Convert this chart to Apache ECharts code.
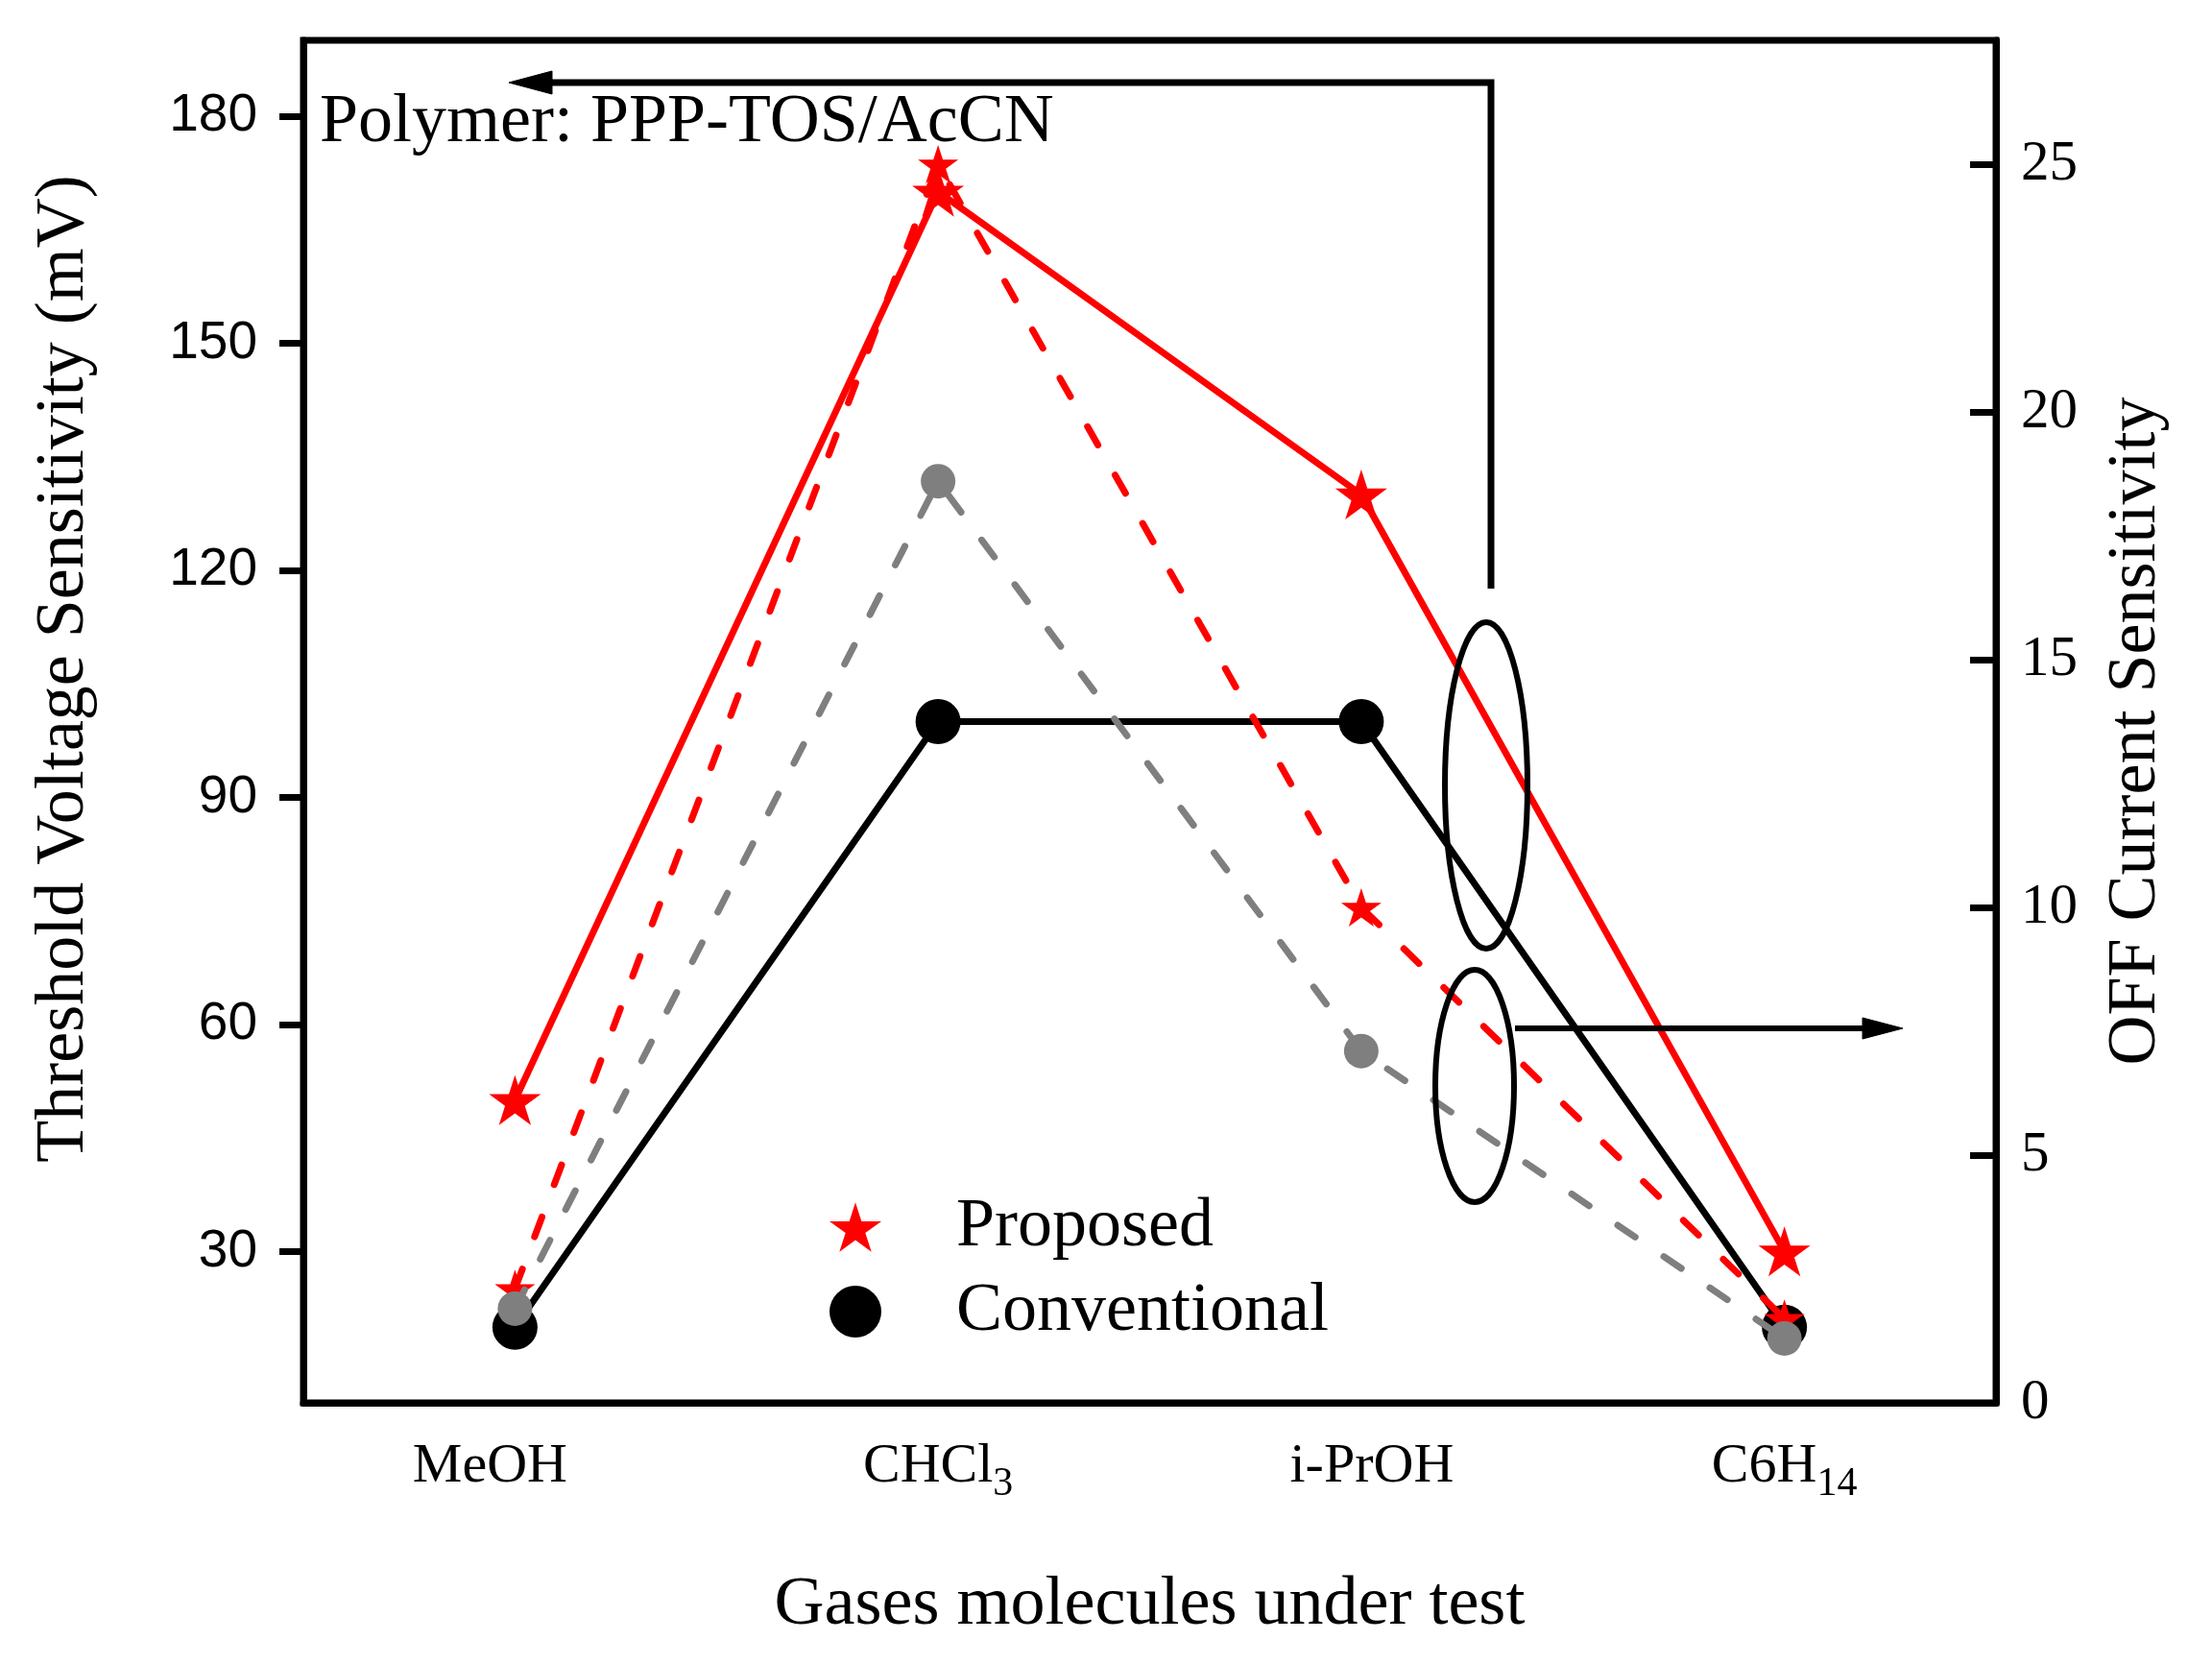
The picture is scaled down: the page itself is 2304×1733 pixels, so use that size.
<!DOCTYPE html>
<html>
<head>
<meta charset="utf-8">
<script src="https://cdn.jsdelivr.net/npm/echarts@6/dist/echarts.min.js"></script>
<style>
html,body{margin:0;padding:0;background:#fff;}
#chart{width:2304px;height:1733px;}
</style>
</head>
<body>
<div id="chart"></div>
<script>
// ---- data ----
const categories = ['MeOH', 'CHCl3', 'i-PrOH', 'C6H14'];
// Threshold voltage sensitivity (mV), left axis
const proposedVth = [50, 170, 130, 30];
const conventionalVth = [20, 100, 100, 20];
// OFF current sensitivity, right axis
const proposedOff = [2.3, 25, 10, 1.7];
const conventionalOff = [1.9, 18.6, 7.1, 1.3];
// tick values
const leftTicks = [30, 60, 90, 120, 150, 180];
const rightTicks = [0, 5, 10, 15, 20, 25];

const SERIF = "'Liberation Serif', 'Times New Roman', serif";
const SANS = "'Liberation Sans', Arial, sans-serif";

function starPath() {
  const pts = [];
  for (let i = 0; i < 10; i++) {
    const r = i % 2 ? 0.382 : 1;
    const a = -Math.PI / 2 + i * Math.PI / 5;
    pts.push((r * Math.cos(a)).toFixed(4) + ' ' + (r * Math.sin(a)).toFixed(4));
  }
  return 'path://M' + pts.join(' L') + ' Z';
}
const STAR = starPath();

function catLabel(v) {
  const m = v.match(/^(.*\D)(\d+)$/);
  if (v === 'MeOH') return '{ml|' + v + '}';
  if (v === 'i-PrOH') return '{mr|' + v + '}';
  if (m) return '{m|' + m[1] + '}{sub|' + m[2] + '}';
  return '{m|' + v + '}';
}

const chart = echarts.init(document.getElementById('chart'), null, {renderer: 'canvas'});

const mainTok = {fontFamily: SERIF, fontSize: 58, lineHeight: 58, color: '#000', verticalAlign: 'bottom'};
const LW = 7;

const option = {
  backgroundColor: '#fff',
  animation: false,
  grid: {left: 316, right: 225, top: 42, bottom: 272, show: true, borderColor: '#000', borderWidth: 7},
  legend: {
    orient: 'vertical',
    left: 859,
    top: 1237,
    itemWidth: 54,
    itemHeight: 54,
    itemGap: 16,
    data: [
      {name: 'Proposed', icon: STAR},
      {name: 'Conventional', icon: 'circle'}
    ],
    textStyle: {fontFamily: SERIF, fontSize: 72, lineHeight: 72, color: '#000', padding: [0, 0, 0, 73]}
  },
  xAxis: {
    type: 'category',
    data: categories,
    boundaryGap: true,
    axisLine: {lineStyle: {color: '#000', width: 7}},
    axisTick: {alignWithLabel: true, length: 27, lineStyle: {color: '#000', width: 7}},
    axisLabel: {
      margin: 48,
      formatter: catLabel,
      rich: {
        m: Object.assign({}, mainTok, {padding: [0, 0, 10, 0]}),
        ml: Object.assign({}, mainTok, {padding: [0, 52, 10, 0]}),
        mr: Object.assign({}, mainTok, {padding: [0, 0, 10, 22]}),
        sub: {fontFamily: SERIF, fontSize: 42, lineHeight: 42, color: '#000', verticalAlign: 'bottom'}
      }
    },
    name: 'Gases molecules under test',
    nameLocation: 'middle',
    nameGap: 175,
    nameTextStyle: {fontFamily: SERIF, fontSize: 72, color: '#000'},
    splitLine: {show: false}
  },
  yAxis: [
    {
      type: 'value',
      position: 'left',
      min: 10,
      max: 190,
      axisLine: {show: true, lineStyle: {color: '#000', width: 7}},
      axisTick: {show: true, length: 25, customValues: leftTicks, lineStyle: {color: '#000', width: 7}},
      axisLabel: {customValues: leftTicks, margin: 48, fontFamily: SANS, fontSize: 55, color: '#000'},
      splitLine: {show: false},
      name: 'Threshold Voltage Sensitivity (mV)',
      nameLocation: 'middle',
      nameGap: 213,
      nameTextStyle: {fontFamily: SERIF, fontSize: 72, color: '#000', padding: [0, 0, 0, 110]}
    },
    {
      type: 'value',
      position: 'right',
      min: 0,
      max: 27.5,
      axisLine: {show: true, lineStyle: {color: '#000', width: 7}},
      axisTick: {show: true, inside: true, length: 27, customValues: rightTicks, lineStyle: {color: '#000', width: 7}},
      axisLabel: {customValues: rightTicks, margin: 26, fontFamily: SERIF, fontSize: 59, color: '#000'},
      splitLine: {show: false},
      name: 'OFF Current Sensitivity',
      nameLocation: 'middle',
      nameGap: 110,
      nameTextStyle: {fontFamily: SERIF, fontSize: 72, color: '#000', padding: [0, 20, 0, 0]}
    }
  ],
  series: [
    {
      name: 'Proposed',
      type: 'line',
      yAxisIndex: 0,
      data: proposedVth,
      symbol: STAR,
      symbolSize: [54, 52],
      color: '#ff0000',
      lineStyle: {color: '#ff0000', width: LW},
      itemStyle: {color: '#ff0000'},
      z: 2
    },
    {
      name: 'Conventional',
      type: 'line',
      yAxisIndex: 0,
      data: conventionalVth,
      symbol: 'circle',
      symbolSize: 47,
      color: '#000000',
      lineStyle: {color: '#000000', width: LW},
      itemStyle: {color: '#000000'},
      z: 3
    },
    {
      name: 'Proposed OFF',
      type: 'line',
      yAxisIndex: 1,
      data: proposedOff,
      symbol: STAR,
      symbolSize: [42, 40],
      color: '#ff0000',
      lineStyle: {color: '#ff0000', width: LW, type: [22, 36], cap: 'round'},
      itemStyle: {color: '#ff0000'},
      z: 4
    },
    {
      name: 'Conventional OFF',
      type: 'line',
      yAxisIndex: 1,
      data: conventionalOff,
      symbol: 'circle',
      symbolSize: 36,
      color: '#7f7f7f',
      lineStyle: {color: '#7f7f7f', width: LW, type: [22, 36], cap: 'round'},
      itemStyle: {color: '#7f7f7f'},
      z: 5
    }
  ],
  graphic: [
    {type: 'text', left: 333, top: 92, z: 10,
      style: {text: 'Polymer: PPP-TOS/AcCN', font: "72px 'Liberation Serif', 'Times New Roman', serif", fill: '#000'}},
    {type: 'ellipse', z: 10, shape: {cx: 1548, cy: 818, rx: 43, ry: 170},
      style: {fill: 'none', stroke: '#000', lineWidth: 6}},
    {type: 'ellipse', z: 10, shape: {cx: 1536, cy: 1131, rx: 41, ry: 121},
      style: {fill: 'none', stroke: '#000', lineWidth: 6}},
    {type: 'polyline', z: 10, shape: {points: [[1578, 1071], [1945, 1071]]},
      style: {stroke: '#000', lineWidth: 6, fill: 'none'}},
    {type: 'polygon', z: 10, shape: {points: [[1940, 1060], [1982, 1071], [1940, 1082]]},
      style: {fill: '#000', stroke: '#000', lineWidth: 1}},
    {type: 'polyline', z: 10, shape: {points: [[1553, 613], [1553, 86], [570, 86]]},
      style: {stroke: '#000', lineWidth: 7, fill: 'none'}},
    {type: 'polygon', z: 10, shape: {points: [[575, 74], [530, 86], [575, 98]]},
      style: {fill: '#000', stroke: '#000', lineWidth: 1}}
  ]
};
chart.setOption(option);
</script>
</body>
</html>
